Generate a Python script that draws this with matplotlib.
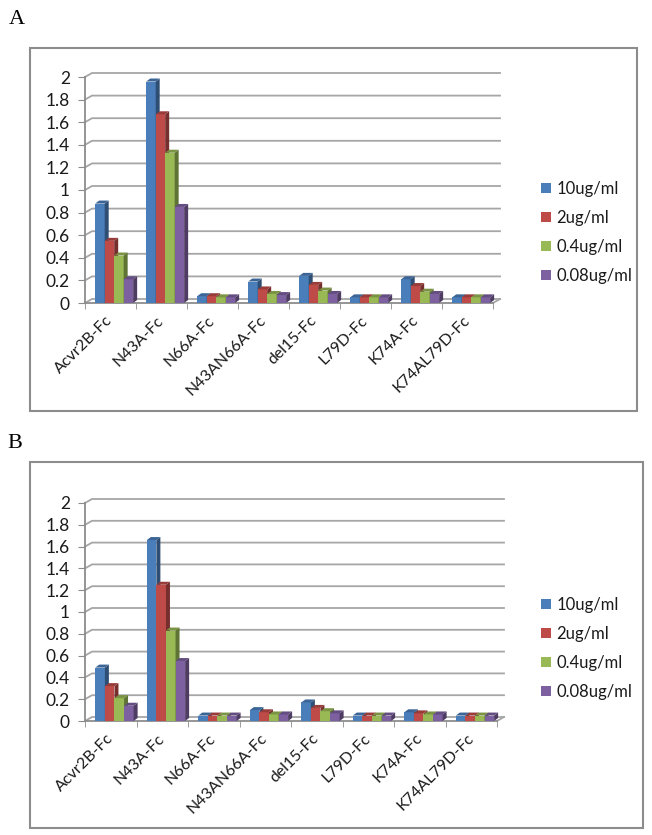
import numpy as np
import matplotlib
matplotlib.use("Agg")
import matplotlib.pyplot as plt
import matplotlib.colors as mcolors
from matplotlib.patches import Polygon, Rectangle, Patch

# figure size in pixels
W, H = 652, 835

categories = ['Acvr2B-Fc', 'N43A-Fc', 'N66A-Fc', 'N43AN66A-Fc',
              'del15-Fc', 'L79D-Fc', 'K74A-Fc', 'K74AL79D-Fc']
doses = ['10ug/ml', '2ug/ml', '0.4ug/ml', '0.08ug/ml']

# panel A values
a_10 = [0.88, 1.96, 0.06, 0.19, 0.24, 0.05, 0.21, 0.05]
a_2 = [0.55, 1.67, 0.06, 0.12, 0.16, 0.05, 0.15, 0.05]
a_04 = [0.42, 1.33, 0.05, 0.08, 0.11, 0.05, 0.10, 0.05]
a_008 = [0.21, 0.85, 0.05, 0.07, 0.08, 0.05, 0.08, 0.05]

# panel B values
b_10 = [0.49, 1.66, 0.05, 0.10, 0.17, 0.05, 0.08, 0.05]
b_2 = [0.32, 1.25, 0.05, 0.08, 0.12, 0.05, 0.07, 0.05]
b_04 = [0.21, 0.83, 0.05, 0.06, 0.09, 0.05, 0.06, 0.05]
b_008 = [0.14, 0.55, 0.05, 0.06, 0.07, 0.05, 0.06, 0.05]

yticks = [0, 0.2, 0.4, 0.6, 0.8, 1.0, 1.2, 1.4, 1.6, 1.8, 2.0]
ytick_labels = ['0', '0.2', '0.4', '0.6', '0.8', '1', '1.2', '1.4', '1.6', '1.8', '2']

colors = ['#4a7ebb', '#be4b48', '#98b954', '#7d60a0']
grid_col = '#a6a6a6'
lab_font = 'Lato'
text_col = '#1a1a1a'

fig = plt.figure(figsize=(W / 100, H / 100), dpi=100)


def shade(c, f):
    r = np.array(mcolors.to_rgb(c))
    return tuple(r * f)


def draw_panel(letter, box, axpx, series, legend_top):
    # box around the chart
    bl, bt, br, bb = box
    fig.patches.append(Rectangle((bl / W, 1 - bb / H), (br - bl) / W, (bb - bt) / H,
                                 transform=fig.transFigure, fill=False,
                                 edgecolor='#8c8c8c', linewidth=1.5))
    fig.text(letter[1] / W, 1 - letter[2] / H, letter[0], family='Liberation Serif',
             fontsize=16, ha='left', va='center')

    left, right, y0, y2 = axpx
    ax = fig.add_axes([left / W, 1 - y0 / H, (right - left) / W, (y0 - y2) / H])
    ax.set_xlim(-0.5, 7.5)
    ax.set_ylim(0, 2)
    ax.patch.set_alpha(0)
    sx = (right - left) / 8.0
    sy = (y0 - y2) / 2.0

    # back wall offset and bar depth, converted from pixels
    wdx, wdy = 7 / sx, 4 / sy
    bdx, bdy = 4 / sx, 3 / sy

    for v in yticks:
        ax.plot([-0.5, -0.5 + wdx, 7.5 + wdx], [v, v + wdy, v + wdy],
                color=grid_col, lw=1.3, clip_on=False, zorder=1)
    ax.plot([7.5, 7.5 + wdx], [0, wdy], color=grid_col, lw=1.3, clip_on=False, zorder=1)

    n = len(series)
    width = 0.186
    for j, vals in enumerate(series):
        c = colors[j]
        xs = np.arange(len(categories)) - 0.30 + j * width
        ax.bar(xs, vals, width=width, align='edge', color=c, edgecolor='none',
               zorder=3 + j, clip_on=False)
        for x, h in zip(xs, vals):
            side = Polygon([(x + width, 0), (x + width, h), (x + width + bdx, h + bdy),
                            (x + width + bdx, bdy)], closed=True, facecolor=shade(c, 0.62),
                           edgecolor='none', zorder=3 + j, clip_on=False)
            top = Polygon([(x, h), (x + width, h), (x + width + bdx, h + bdy), (x + bdx, h + bdy)],
                          closed=True, facecolor=shade(c, 0.8), edgecolor='none',
                          zorder=3 + j, clip_on=False)
            ax.add_patch(side)
            ax.add_patch(top)

    for s in ['top', 'right']:
        ax.spines[s].set_visible(False)
    for s in ['left', 'bottom']:
        ax.spines[s].set_color('#8c8c8c')
        ax.spines[s].set_linewidth(1.3)
        ax.spines[s].set_zorder(2)

    ax.set_yticks(yticks, ytick_labels)
    ax.tick_params(axis='y', length=5, color='#8c8c8c', pad=6, labelsize=12.5,
                   labelcolor=text_col)
    for t in ax.get_yticklabels():
        t.set_family(lab_font)

    ax.set_xticks(np.arange(len(categories)), categories)
    ax.set_xticks(np.arange(-0.5, 8, 1.0), minor=True)
    ax.tick_params(axis='x', which='major', length=0, pad=11, labelsize=11.5,
                   labelcolor=text_col)
    ax.tick_params(axis='x', which='minor', length=4, color='#8c8c8c')
    for t in ax.get_xticklabels():
        t.set_family(lab_font)
        t.set_rotation(45)
        t.set_ha('right')
        t.set_va('center')
        t.set_rotation_mode('anchor')

    handles = [Patch(facecolor=colors[k], label=doses[k]) for k in range(n)]
    fig.legend(handles=handles, loc='upper left',
               bbox_to_anchor=(533 / W, 1 - legend_top / H), bbox_transform=fig.transFigure,
               frameon=False, handlelength=0.55, handleheight=0.55, handletextpad=0.35,
               labelspacing=0.78, borderpad=0, labelcolor=text_col,
               prop={'family': lab_font, 'size': 12})


draw_panel(('A', 9, 20), (30, 48, 637, 411), (85, 493, 303, 77),
           [a_10, a_2, a_04, a_008], 173)
draw_panel(('B', 7, 444), (30, 462, 643, 828), (85, 497, 721, 503),
           [b_10, b_2, b_04, b_008], 589)

fig.savefig('out.png', dpi=100)
